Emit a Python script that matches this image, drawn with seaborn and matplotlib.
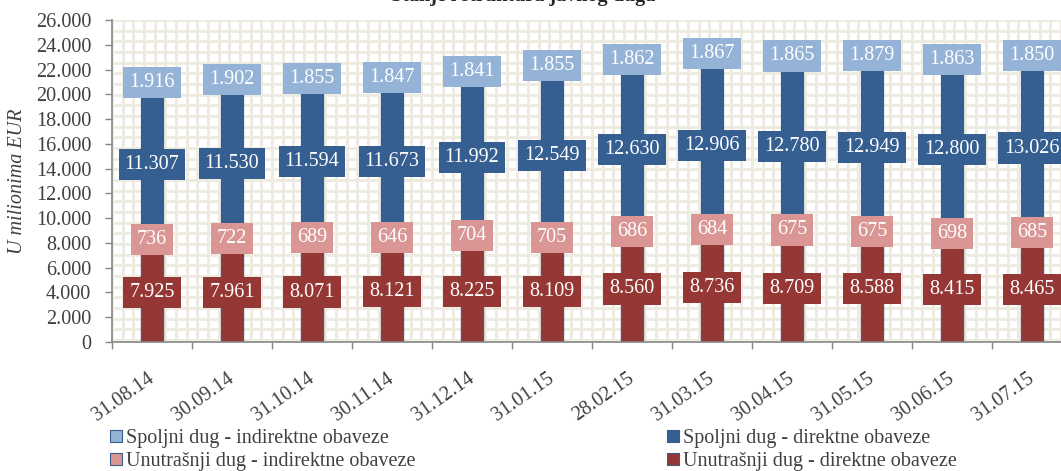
import numpy as np
import pandas as pd
import seaborn as sns
import matplotlib.pyplot as plt
from matplotlib.patches import Patch
from matplotlib.ticker import FixedLocator

dates = ['31.08.14', '30.09.14', '31.10.14', '30.11.14', '31.12.14', '31.01.15',
         '28.02.15', '31.03.15', '30.04.15', '31.05.15', '30.06.15', '31.07.15']
unutrasnji_direktne = [7925, 7961, 8071, 8121, 8225, 8109, 8560, 8736, 8709, 8588, 8415, 8465]
unutrasnji_indirektne = [736, 722, 689, 646, 704, 705, 686, 684, 675, 675, 698, 685]
spoljni_direktne = [11307, 11530, 11594, 11673, 11992, 12549, 12630, 12906, 12780, 12949, 12800, 13026]
spoljni_indirektne = [1916, 1902, 1855, 1847, 1841, 1855, 1862, 1867, 1865, 1879, 1863, 1850]

# bottom -> top
series = [
    ('Unutrašnji dug - direktne obaveze', unutrasnji_direktne, '#953735'),
    ('Unutrašnji dug - indirektne obaveze', unutrasnji_indirektne, '#d99694'),
    ('Spoljni dug - direktne obaveze', spoljni_direktne, '#365f91'),
    ('Spoljni dug - indirektne obaveze', spoljni_indirektne, '#95b3d7'),
]
edge = '#385d8a'
txt = '#404040'

sns.set_style('white')
plt.rcParams['font.family'] = ['Liberation Serif', 'DejaVu Serif']

fig = plt.figure(figsize=(10.61, 4.71), dpi=100)
ax = fig.add_axes([112 / 1061, 129 / 471, 960 / 1061, 322 / 471])

# stacked bars: draw cumulative totals from the top series down
df = pd.DataFrame({'datum': dates})
bottoms = {}
cum = np.zeros(len(dates))
for name, vals, col in series:
    bottoms[name] = cum.copy()
    cum = cum + np.array(vals)
    df[name] = cum

for name, vals, col in reversed(series):
    sns.barplot(data=df, x='datum', y=name, color=col, saturation=1, width=0.275,
                edgecolor=edge, linewidth=0.8, ax=ax, zorder=2)

def fmt(v):
    return f'{v:,}'.replace(',', '.')

for name, vals, col in series:
    for i, v in enumerate(vals):
        ax.text(i, bottoms[name][i] + v / 2, fmt(v), ha='center', va='center',
                color='white', fontsize=14.5, zorder=5,
                bbox=dict(boxstyle='square,pad=0.3', fc=col, ec='none'))

ax.set_xlim(-0.5, 11.5)
ax.set_ylim(0, 26000)

# background "small grid" pattern
ax.vlines(np.arange(-0.5, 11.6, 0.1333), 0, 26000, color='#eeece1', lw=2.1, zorder=0)
ax.hlines(np.arange(26000, 0, -861), -0.5, 11.5, color='#eeece1', lw=2.1, zorder=0)

ax.set_yticks(range(0, 26001, 2000))
ax.set_yticklabels([fmt(v) for v in range(0, 26001, 2000)])
ax.tick_params(axis='y', length=5, width=1, color='#868686', pad=10,
               labelsize=14.5, labelcolor=txt, left=True)
ax.set_xticks(range(len(dates)))
ax.set_xticklabels(dates, rotation=35, ha='right', rotation_mode='anchor', va='center')
ax.tick_params(axis='x', length=0, pad=25, labelsize=14.5, labelcolor=txt)
ax.xaxis.set_minor_locator(FixedLocator(np.arange(-0.5, 11.6, 1)))
ax.tick_params(axis='x', which='minor', length=5, width=1, color='#868686', bottom=True)

for s in ['top', 'right']:
    ax.spines[s].set_visible(False)
for s in ['left', 'bottom']:
    ax.spines[s].set_color('#868686')
    ax.spines[s].set_linewidth(1.2)
ax.set_xlabel('')
ax.set_ylabel('')

fig.text(18 / 1061, 1 - 181 / 471, 'U milionima EUR', rotation=90, ha='center', va='center',
         fontsize=14.5, style='italic', color=txt)
# title sits mostly above the top edge, as in the source image
fig.text(523 / 1061, 1 - 0.5 / 471, 'Stanje i struktura javnog duga', ha='center', va='baseline',
         fontsize=14.5, fontweight='bold', color='#262626')

order = [3, 1, 2, 0]
handles = [Patch(facecolor=series[k][2], edgecolor=edge, lw=0.8, label=series[k][0]) for k in order]
fig.legend(handles=handles, ncol=2, loc='upper left', bbox_to_anchor=(110 / 1061, 1 - 429 / 471),
           frameon=False, fontsize=14.5, handlelength=0.6, handleheight=0.6, handletextpad=0.2,
           columnspacing=12.5, labelspacing=0.2, borderaxespad=0, borderpad=0,
           labelcolor=txt)

plt.savefig('out.png', dpi=100)
